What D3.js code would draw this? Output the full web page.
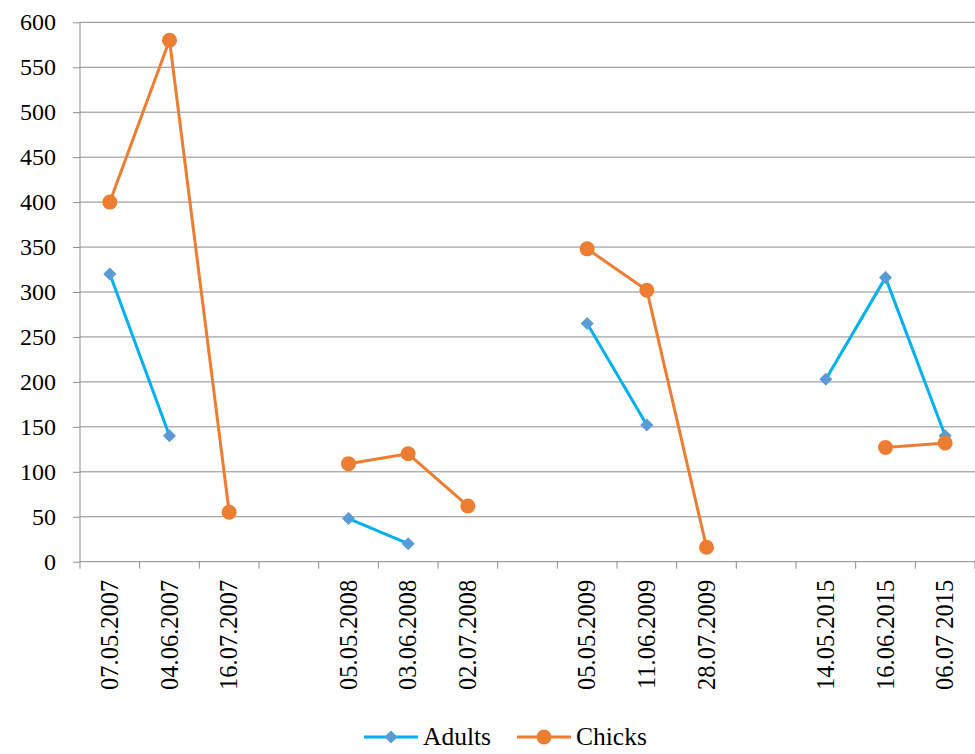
<!DOCTYPE html>
<html>
<head>
<meta charset="utf-8">
<script src="https://cdn.jsdelivr.net/npm/d3@7"></script>
<style>
html,body{margin:0;padding:0;background:#fff;}
svg{display:block;}
</style>
</head>
<body>
<svg id="chart" width="975" height="754"></svg>
<script>
const categories = ["07.05.2007","04.06.2007","16.07.2007","",
  "05.05.2008","03.06.2008","02.07.2008","",
  "05.05.2009","11.06.2009","28.07.2009","",
  "14.05.2015","16.06.2015","06.07 2015"];
const adults = [320,140,null,null, 48,20,null,null, 265,152,null,null, 203,316,140];
const chicks = [400,580,55,null, 109,120,62,null, 348,302,16,null, null,127,132];
const yTicks = [0,50,100,150,200,250,300,350,400,450,500,550,600];
const seriesNames = ["Adults","Chicks"];

(function(){
// pick an installed serif font (Times-like) if any
const cnv = document.createElement("canvas").getContext("2d");
function w(f){ cnv.font = "72px " + f; return cnv.measureText("mmmWWWiiilll07.05.2007 Adults").width; }
const candidates = ["Liberation Serif","Times New Roman","Tinos","Nimbus Roman","DejaVu Serif","Noto Serif","FreeSerif"];
let family = null;
for (const c of candidates){
  const a = w(`"${c}", monospace`), b = w("monospace");
  const a2 = w(`"${c}", sans-serif`), b2 = w("sans-serif");
  if (a !== b || a2 !== b2){ family = c; break; }
}
const isSerif = family !== null;
const fontFamily = isSerif ? `"${family}", serif` : `"Liberation Sans", Arial, sans-serif`;
const axisSize = isSerif ? 24 : 22;
const xSize = isSerif ? 24.5 : 23;
const legSize = isSerif ? 25.5 : 24.5;

const svg = d3.select("#chart").style("font-family", fontFamily);
const pLeft = 80, pRight = 975, pTop = 22.3, pBottom = 561.7;
const idx = categories.map((d,i)=>i);
const x = d3.scaleBand().domain(idx).range([pLeft,pRight]).paddingInner(0).paddingOuter(0);
const y = d3.scaleLinear().domain([0,600]).range([pBottom,pTop]);
const cx = i => x(i) + x.bandwidth()/2;

// gridlines
svg.append("g").selectAll("line").data(yTicks.filter(v=>v>0)).join("line")
  .attr("x1",pLeft).attr("x2",pRight)
  .attr("y1",d=>y(d)).attr("y2",d=>y(d))
  .attr("stroke","#8c8c8c").attr("stroke-width",1);

// y axis
const yAxis = svg.append("g").attr("transform",`translate(${pLeft},0)`)
  .call(d3.axisLeft(y).tickValues(yTicks).tickSize(7).tickPadding(17).tickFormat(d3.format("d")));
yAxis.attr("font-family",fontFamily).attr("font-size",axisSize);
yAxis.select(".domain").attr("stroke","#8c8c8c").attr("d",`M0,${pBottom}V${pTop}`);
yAxis.selectAll(".tick line").attr("stroke","#8c8c8c");
yAxis.selectAll(".tick text").attr("fill","#000");

// x axis
const tickPos = d3.range(categories.length+1).map(i=> pLeft + i*x.bandwidth());
svg.append("line").attr("x1",pLeft).attr("x2",pRight).attr("y1",pBottom).attr("y2",pBottom)
  .attr("stroke","#8c8c8c").attr("stroke-width",1);
svg.append("g").selectAll("line").data(tickPos).join("line")
  .attr("x1",d=>d).attr("x2",d=>d).attr("y1",pBottom).attr("y2",pBottom+7)
  .attr("stroke","#8c8c8c");
svg.append("g").selectAll("text").data(idx.filter(i=>categories[i]!=="")).join("text")
  .attr("transform",i=>`translate(${cx(i)+8},${pBottom+18}) rotate(-90)`)
  .attr("text-anchor","end")
  .attr("font-size",xSize)
  .attr("fill","#000")
  .text(i=>categories[i]);

// lines
const adultColor = "#00B0F0", adultMarker = "#5B9BD5", chickColor = "#ED7D31";
const line = d3.line().defined(d=>d.v!==null).x(d=>cx(d.i)).y(d=>y(d.v));
const aData = adults.map((v,i)=>({i,v}));
const cData = chicks.map((v,i)=>({i,v}));

svg.append("path").datum(aData).attr("d",line).attr("fill","none")
  .attr("stroke",adultColor).attr("stroke-width",3).attr("stroke-linejoin","round");
svg.append("path").datum(cData).attr("d",line).attr("fill","none")
  .attr("stroke",chickColor).attr("stroke-width",3).attr("stroke-linejoin","round");

const diamond = d3.symbol().type(d3.symbolSquare).size(85);
svg.append("g").selectAll("path").data(aData.filter(d=>d.v!==null)).join("path")
  .attr("d",diamond())
  .attr("transform",d=>`translate(${cx(d.i)},${y(d.v)}) rotate(45)`)
  .attr("fill",adultMarker);
svg.append("g").selectAll("circle").data(cData.filter(d=>d.v!==null)).join("circle")
  .attr("cx",d=>cx(d.i)).attr("cy",d=>y(d.v)).attr("r",7.5)
  .attr("fill",chickColor);

// legend
const ly = 737;
const lg = svg.append("g");
const legendItems = [
  {name:seriesNames[0], x0:364, color:adultColor, marker:adultMarker, type:"diamond"},
  {name:seriesNames[1], x0:517, color:chickColor, marker:chickColor, type:"circle"}
];
legendItems.forEach(it=>{
  lg.append("line").attr("x1",it.x0).attr("x2",it.x0+54).attr("y1",ly).attr("y2",ly)
    .attr("stroke",it.color).attr("stroke-width",3);
  if(it.type==="diamond"){
    lg.append("path").attr("d",diamond()).attr("transform",`translate(${it.x0+27},${ly}) rotate(45)`)
      .attr("fill",it.marker);
  } else {
    lg.append("circle").attr("cx",it.x0+27).attr("cy",ly).attr("r",7.5).attr("fill",it.marker);
  }
  lg.append("text").attr("x",it.x0+59).attr("y",ly+8).attr("font-size",legSize).attr("fill","#000").text(it.name);
});
})();
</script>
</body>
</html>
